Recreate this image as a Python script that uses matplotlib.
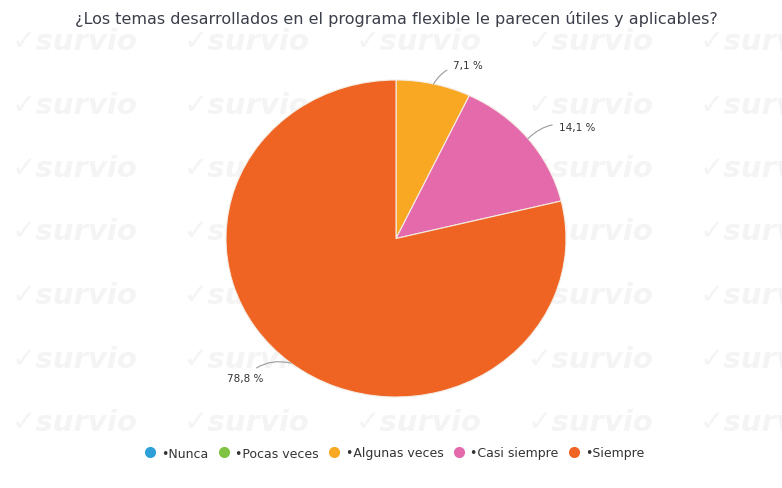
import matplotlib
matplotlib.use("Agg")
import matplotlib.pyplot as plt
from matplotlib.lines import Line2D
import numpy as np

categories = ["Nunca", "Pocas veces", "Algunas veces", "Casi siempre", "Siempre"]
values = [0.0, 0.0, 7.1, 14.1, 78.8]
colors = ["#2d9fd9", "#80c342", "#f9a823", "#e46aab", "#ef6422"]
title = "¿Los temas desarrollados en el programa flexible le parecen útiles y aplicables?"

W, H = 782, 489
fig = plt.figure(figsize=(W / 100, H / 100), dpi=100)
fig.patch.set_facecolor("white")

# faint watermark in a background axes
bg = fig.add_axes([0, 0, 1, 1], zorder=-5)
bg.set_xlim(0, W)
bg.set_ylim(H, 0)
bg.axis("off")
for r in range(7):
    for c in range(5):
        bg.text(12 + c * 172, 42 + r * 63.5, "✓survio", fontsize=21, fontstyle="italic",
                fontweight="bold", color="#f4f4f4", ha="left", va="center", clip_on=True)

fig.text(396 / W, 1 - 19 / H, title, ha="center", va="center", fontsize=11.5,
         color="#3b3f4a", family="DejaVu Sans")

ax = fig.add_axes([226 / W, (H - 398) / H, 340 / W, 317 / H], zorder=2)
ax.patch.set_alpha(0)
wedges, _ = ax.pie(values, colors=colors, startangle=90, counterclock=False,
                   wedgeprops=dict(edgecolor="#f4ece4", linewidth=0.8))
ax.set_aspect("auto")
ax.set_xlim(-1, 1)
ax.set_ylim(-1, 1)
ax.axis("off")

# outside labels
start = 90.0
for v, w in zip(values, wedges):
    if v <= 0:
        continue
    mid = start - v / 100 * 360 / 2
    start -= v / 100 * 360
    a = np.deg2rad(mid)
    x0, y0 = np.cos(a), np.sin(a)
    x1, y1 = 1.12 * x0, 1.12 * y0
    side = 1 if x0 >= 0 else -1
    ax.annotate(f"{v:.1f} %".replace(".", ","), xy=(x0, y0), xytext=(x1 + side * 0.09, y1),
                ha="left" if side > 0 else "right", va="center", fontsize=7.5, color="#333333",
                arrowprops=dict(arrowstyle="-", color="#9a9a9a", lw=0.8,
                                connectionstyle="arc3,rad=%.2f" % (0.3 * side),
                                shrinkA=3, shrinkB=0))

handles = [Line2D([0], [0], marker="o", linestyle="", markersize=7, markerfacecolor=c,
                  markeredgecolor=c) for c in colors]
labels = ["•" + c for c in categories]
leg = fig.legend(handles, labels, loc="center", bbox_to_anchor=(394 / W, 1 - 454 / H), ncol=5,
                 frameon=False, fontsize=9, handletextpad=0.4, handlelength=1.0,
                 columnspacing=0.75, labelcolor="#333333")

fig.savefig("out.png", dpi=100)
